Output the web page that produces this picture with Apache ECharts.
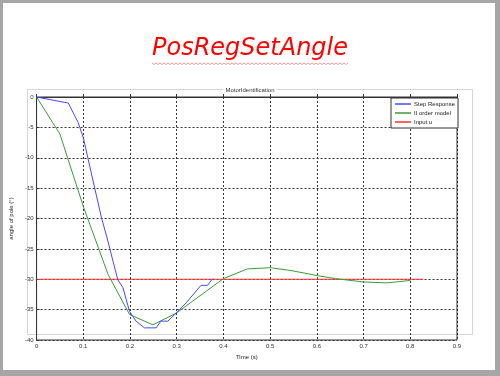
<!DOCTYPE html>
<html>
<head>
<meta charset="utf-8">
<script src="https://cdn.jsdelivr.net/npm/echarts@6/dist/echarts.min.js"></script>
<style>
    html, body { margin: 0; padding: 0; background: #fff; }
    #graph { width: 500px; height: 376px; }
</style>
</head>
<body>
<div id="graph"></div>
<script>
// step response (measured)
var stepTime  = [0, 0.068, 0.089, 0.100, 0.1245, 0.139, 0.151, 0.1635, 0.174, 0.185, 0.199, 0.213, 0.231, 0.256, 0.266, 0.281, 0.2985, 0.32, 0.352, 0.366, 0.377];
var stepAngle = [0, -1.0, -4.2, -6.7, -15, -19.9, -23.2, -27, -30.1, -31.4, -35.3, -36.9, -38.0, -38.0, -36.9, -36.9, -35.6, -33.9, -31.0, -31.0, -29.9];
// II order model
var modelTime  = [0, 0.05, 0.1, 0.153, 0.199, 0.249, 0.2985, 0.40, 0.451, 0.501, 0.547, 0.601, 0.64, 0.70, 0.75, 0.80];
var modelAngle = [0, -6.1, -18, -29.2, -35.8, -37.5, -35.6, -29.9, -28.3, -28.1, -28.6, -29.4, -29.9, -30.45, -30.6, -30.2];
// input u
var inputTime  = [0, 0.828];
var inputAngle = [-30, -30];

function pairs(xs, ys) {
    var out = [];
    for (var i = 0; i < xs.length; i++) out.push([xs[i], ys[i]]);
    return out;
}

// wavy spellcheck underline under the title
var wave = [];
for (var k = 0; k <= 98; k++) {
    wave.push([152 + k * 2, 63 + (k % 2 === 0 ? 0 : 1.5)]);
}

var myChart = echarts.init(document.getElementById('graph'));
myChart.setOption({
    animation: false,
    backgroundColor: '#fff',
    title: {
        text: 'PosRegSetAngle',
        left: 'center',
        top: 32,
        textStyle: {
            color: '#ff0000',
            fontStyle: 'italic',
            fontWeight: 'normal',
            fontSize: 24,
            fontFamily: 'DejaVu Sans'
        }
    },
    legend: {
        orient: 'vertical',
        left: 391,
        top: 98,
        padding: [3, 3, 3, 4],
        itemGap: 3,
        itemWidth: 16,
        itemHeight: 1.5,
        icon: 'rect',
        borderColor: '#333',
        borderWidth: 1,
        backgroundColor: '#fff',
        textStyle: { fontSize: 6, color: '#222', fontFamily: 'Liberation Sans', padding: [0, 0, 0, -2] },
        data: ['Step Response', 'II order model', 'Input u']
    },
    grid: {
        left: 33,
        right: 43,
        top: 97,
        bottom: 36,
        show: true,
        borderColor: '#333',
        borderWidth: 1,
        backgroundColor: 'transparent'
    },
    xAxis: {
        type: 'value',
        min: 0,
        max: 0.9,
        interval: 0.1,
        name: 'Time (s)',
        nameLocation: 'middle',
        nameGap: 13,
        nameTextStyle: { fontSize: 6, color: '#222', fontFamily: 'Liberation Sans' },
        axisLine: { lineStyle: { color: '#333', width: 1 } },
        axisTick: { inside: true, length: 3, lineStyle: { color: '#333' } },
        axisLabel: { fontSize: 6, color: '#333', margin: 3, fontFamily: 'Liberation Sans' },
        splitLine: { show: true, lineStyle: { color: '#333', type: [2, 2], width: 1 } }
    },
    yAxis: {
        type: 'value',
        min: -40,
        max: 0,
        interval: 5,
        name: 'angle of pole (°)',
        nameLocation: 'middle',
        nameGap: 16,
        nameTextStyle: { fontSize: 6, color: '#222', fontFamily: 'Liberation Sans' },
        axisLine: { show: true, onZero: false, lineStyle: { color: '#333', width: 1 } },
        axisTick: { show: true, inside: true, length: 3, lineStyle: { color: '#333' } },
        axisLabel: { fontSize: 6, color: '#333', margin: 3, fontFamily: 'Liberation Sans' },
        splitLine: { show: true, lineStyle: { color: '#333', type: [2, 2], width: 1 } }
    },
    graphic: [
        // dotted figure frame
        { type: 'rect', shape: { x: 27.5, y: 89.5, width: 445, height: 245 }, z: -1,
          style: { fill: 'none', stroke: '#aaa', lineWidth: 1, lineDash: [1, 1] } },
        { type: 'text', left: 'center', top: 87, z: 5,
          style: { text: 'MotorIdentification', fontSize: 6, fill: '#333', fontFamily: 'Liberation Sans', backgroundColor: '#fff', padding: [0, 2] } },
        { type: 'polyline', shape: { points: wave }, style: { stroke: '#f08080', lineWidth: 0.8, fill: 'none' } },
        // slide border
        { type: 'rect', shape: { x: 0, y: 0, width: 500, height: 3 }, style: { fill: '#a6a6a6' } },
        { type: 'rect', shape: { x: 0, y: 0, width: 3, height: 376 }, style: { fill: '#a6a6a6' } },
        { type: 'rect', shape: { x: 495, y: 0, width: 5, height: 376 }, style: { fill: '#a6a6a6' } },
        { type: 'rect', shape: { x: 0, y: 370, width: 500, height: 6 }, style: { fill: '#a6a6a6' } }
    ],
    series: [
        {
            name: 'Step Response',
            type: 'line',
            symbol: 'none',
            color: '#4848ff',
            lineStyle: { width: 1 },
            data: pairs(stepTime, stepAngle),
            z: 4
        },
        {
            name: 'II order model',
            type: 'line',
            symbol: 'none',
            color: '#3a9a3a',
            lineStyle: { width: 1 },
            data: pairs(modelTime, modelAngle),
            z: 3
        },
        {
            name: 'Input u',
            type: 'line',
            symbol: 'none',
            color: '#ff3030',
            lineStyle: { width: 1 },
            data: pairs(inputTime, inputAngle),
            z: 2
        }
    ]
});
</script>
</body>
</html>
